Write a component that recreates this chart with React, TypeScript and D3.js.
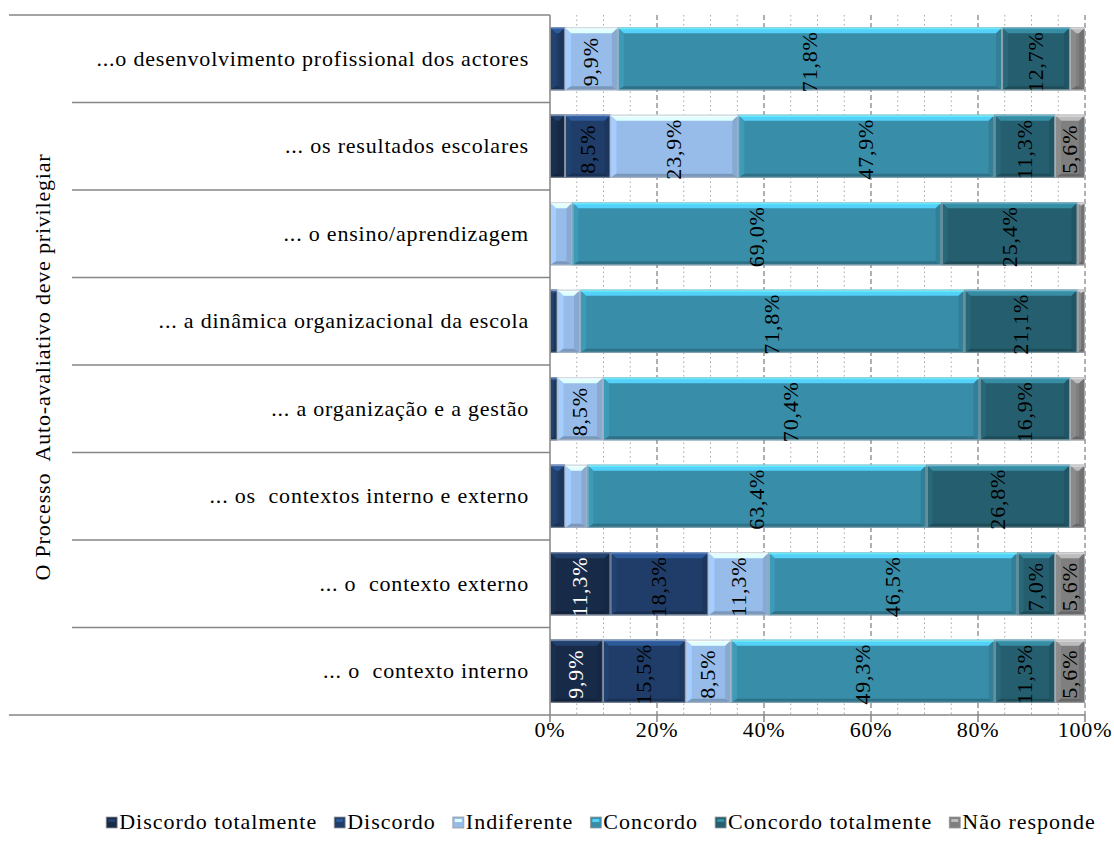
import React, { useEffect, useRef } from "react";
import * as d3 from "d3";

const categories = [
  "...o desenvolvimento profissional dos actores",
  "... os resultados escolares",
  "... o ensino/aprendizagem",
  "... a dinâmica organizacional da escola",
  "... a organização e a gestão",
  "... os  contextos interno e externo",
  "... o  contexto externo",
  "... o  contexto interno",
];

const seriesNames = [
  "Discordo totalmente",
  "Discordo",
  "Indiferente",
  "Concordo",
  "Concordo totalmente",
  "Não responde",
];

const discordoTotalmente = [0, 2.8, 0, 0, 0, 0, 11.3, 9.9];
const discordo = [2.8, 8.5, 0, 1.4, 1.4, 2.8, 18.3, 15.5];
const indiferente = [9.9, 23.9, 4.2, 4.2, 8.5, 4.2, 11.3, 8.5];
const concordo = [71.8, 47.9, 69.0, 71.8, 70.4, 63.4, 46.5, 49.3];
const concordoTotalmente = [12.7, 11.3, 25.4, 21.1, 16.9, 26.8, 7.0, 11.3];
const naoResponde = [2.8, 5.6, 1.4, 1.4, 2.8, 2.8, 5.6, 5.6];

const seriesValues = [
  discordoTotalmente,
  discordo,
  indiferente,
  concordo,
  concordoTotalmente,
  naoResponde,
];

const seriesColors = ["#172b49", "#1f3d68", "#97bce9", "#388da8", "#255f6f", "#7f7f7f"];
const labelColors = ["#ffffff", "#000000", "#000000", "#000000", "#000000", "#000000"];

const tickValues = [0, 20, 40, 60, 80, 100];
const tickLabels = ["0%", "20%", "40%", "60%", "80%", "100%"];
const axisTitle = "O Processo  Auto-avaliativo deve privilegiar";

const FONT = "'Liberation Serif', 'Times New Roman', Times, serif";

export default function App() {
  const ref = useRef<SVGSVGElement>(null);

  useEffect(() => {
    const svg = d3.select(ref.current);
    svg.selectAll("*").remove();

    const left = 550,
      right = 1085,
      top = 15,
      bottom = 715;
    const fs = 22;
    const ls = 0.8;

    const x = d3.scaleLinear().domain([0, 1]).range([left, right]);
    const y = d3
      .scaleBand<string>()
      .domain(categories)
      .range([top, bottom])
      .paddingInner(0.28)
      .paddingOuter(0.14);
    const step = y.step();

    // gridlines
    const grid = svg.append("g");
    const minor = d3.range(5, 100, 5).filter((v) => v % 20 !== 0);
    grid
      .selectAll("line.minor")
      .data(minor)
      .join("line")
      .attr("x1", (d) => x(d / 100))
      .attr("x2", (d) => x(d / 100))
      .attr("y1", top)
      .attr("y2", bottom)
      .attr("stroke", "#a6a6a6")
      .attr("stroke-width", 1)
      .attr("stroke-dasharray", "1.5,3");
    grid
      .selectAll("line.major")
      .data(tickValues.filter((v) => v > 0))
      .join("line")
      .attr("x1", (d) => x(d / 100))
      .attr("x2", (d) => x(d / 100))
      .attr("y1", top)
      .attr("y2", bottom)
      .attr("stroke", "#868686")
      .attr("stroke-width", 1.3)
      .attr("stroke-dasharray", "5,3");

    // stacked data
    const rows = categories.map((c, i) => {
      const o: any = { cat: c };
      seriesNames.forEach((s, j) => (o[s] = seriesValues[j][i]));
      return o;
    });
    const stacked = d3.stack<any>().keys(seriesNames).offset(d3.stackOffsetExpand)(rows);

    const barsG = svg.append("g");
    stacked.forEach((layer, si) => {
      const base = d3.color(seriesColors[si])!;
      const cTop = base.brighter(1.1).formatHex();
      const cTopLine = base.brighter(1.6).formatHex();
      const cBot = base.darker(0.6).formatHex();
      const cLeft = base.brighter(0.25).formatHex();
      const cRight = base.darker(0.3).formatHex();
      layer.forEach((d, ri) => {
        const v = seriesValues[si][ri];
        if (!v) return;
        const x0 = x(d[0]);
        const x1 = x(d[1]);
        const w = x1 - x0;
        const yy = y(categories[ri])!;
        const h = y.bandwidth();
        const g = barsG.append("g");
        g.append("rect")
          .attr("x", x0)
          .attr("y", yy)
          .attr("width", w)
          .attr("height", h)
          .attr("fill", seriesColors[si]);
        const b = Math.min(6, w / 2);
        const bb = Math.min(4, w / 2);
        const poly = (pts: number[][], fill: string) =>
          g.append("polygon").attr("points", pts.map((p) => p.join(",")).join(" ")).attr("fill", fill);
        poly(
          [
            [x0, yy],
            [x0 + b, yy + b],
            [x0 + b, yy + h - bb],
            [x0, yy + h],
          ],
          cLeft
        );
        poly(
          [
            [x1, yy],
            [x1 - b, yy + b],
            [x1 - b, yy + h - bb],
            [x1, yy + h],
          ],
          cRight
        );
        poly(
          [
            [x0, yy],
            [x1, yy],
            [x1 - b, yy + b],
            [x0 + b, yy + b],
          ],
          cTop
        );
        g.append("rect")
          .attr("x", x0)
          .attr("y", yy)
          .attr("width", w)
          .attr("height", 2)
          .attr("fill", cTopLine)
          .attr("opacity", 0.8);
        poly(
          [
            [x0, yy + h],
            [x1, yy + h],
            [x1 - b, yy + h - bb],
            [x0 + b, yy + h - bb],
          ],
          cBot
        );
        g.append("rect")
          .attr("x", x0 + 0.5)
          .attr("y", yy + 0.5)
          .attr("width", Math.max(0, w - 1))
          .attr("height", h - 1)
          .attr("fill", "none")
          .attr("stroke", "#b9bec4")
          .attr("stroke-opacity", 0.7)
          .attr("stroke-width", 1);

        if (v >= 5) {
          const cx = (x0 + x1) / 2;
          const cy = yy + h / 2 + 3;
          g.append("text")
            .attr("transform", `translate(${cx + 7},${cy}) rotate(-90)`)
            .attr("text-anchor", "middle")
            .attr("font-family", FONT)
            .attr("font-size", fs)
            .attr("letter-spacing", ls)
            .attr("fill", labelColors[si])
            .text(v.toFixed(1).replace(".", ",") + "%");
        }
      });
    });

    // axes
    const axisColor = "#868686";
    const ax = svg.append("g");
    ax.append("line")
      .attr("x1", left)
      .attr("x2", left)
      .attr("y1", top)
      .attr("y2", bottom)
      .attr("stroke", axisColor)
      .attr("stroke-width", 1.5);
    ax.append("line")
      .attr("x1", left)
      .attr("x2", right)
      .attr("y1", bottom)
      .attr("y2", bottom)
      .attr("stroke", axisColor)
      .attr("stroke-width", 1.5);
    ax.selectAll("line.tick")
      .data(tickValues)
      .join("line")
      .attr("x1", (d) => x(d / 100))
      .attr("x2", (d) => x(d / 100))
      .attr("y1", bottom)
      .attr("y2", bottom + 7)
      .attr("stroke", axisColor)
      .attr("stroke-width", 1.5);
    ax.selectAll("text.tick")
      .data(tickValues)
      .join("text")
      .attr("x", (d) => x(d / 100))
      .attr("y", 737)
      .attr("text-anchor", "middle")
      .attr("font-family", FONT)
      .attr("font-size", fs)
      .attr("letter-spacing", ls)
      .attr("fill", "#000")
      .text((d, i) => tickLabels[i]);

    // category boundaries
    d3.range(0, categories.length + 1).forEach((i) => {
      const yy = top + i * step;
      const outer = i === 0 || i === categories.length;
      ax.append("line")
        .attr("x1", outer ? 9 : 72)
        .attr("x2", left)
        .attr("y1", yy)
        .attr("y2", yy)
        .attr("stroke", axisColor)
        .attr("stroke-width", 1.5);
    });

    ax.selectAll("text.cat")
      .data(categories)
      .join("text")
      .attr("x", 529)
      .attr("y", (d) => y(d)! + y.bandwidth() / 2 + 7)
      .attr("text-anchor", "end")
      .attr("font-family", FONT)
      .attr("font-size", fs)
      .attr("letter-spacing", ls)
      .style("white-space", "pre")
      .attr("fill", "#000")
      .text((d) => d);

    ax.append("text")
      .attr("transform", `translate(50,${(top + bottom) / 2 + 2}) rotate(-90)`)
      .attr("text-anchor", "middle")
      .attr("font-family", FONT)
      .attr("font-size", fs)
      .attr("letter-spacing", ls)
      .style("white-space", "pre")
      .attr("fill", "#000")
      .text(axisTitle);

    // legend
    const lg = svg.append("g");
    const items = seriesNames.map((name, i) => {
      const g = lg.append("g");
      const base = d3.color(seriesColors[i])!;
      g.append("rect")
        .attr("x", 0)
        .attr("y", -12)
        .attr("width", 11)
        .attr("height", 11)
        .attr("fill", seriesColors[i])
        .attr("stroke", "#9a9a9a")
        .attr("stroke-width", 0.8);
      g.append("rect")
        .attr("x", 2)
        .attr("y", -10)
        .attr("width", 7)
        .attr("height", 3)
        .attr("fill", base.brighter(1.1).formatHex());
      const t = g
        .append("text")
        .attr("x", 13)
        .attr("y", 0)
        .attr("font-family", FONT)
        .attr("font-size", fs)
        .attr("letter-spacing", 1)
        .attr("fill", "#000")
        .text(name);
      const tw = (t.node() as SVGTextElement).getComputedTextLength();
      return { g, w: 13 + tw };
    });
    const gap = 17;
    const total = d3.sum(items, (d) => d.w) + gap * (items.length - 1);
    let cx = 601 - total / 2;
    items.forEach((it) => {
      it.g.attr("transform", `translate(${cx},829)`);
      cx += it.w + gap;
    });
  }, []);

  return (
    <svg
      ref={ref}
      width={1114}
      height={845}
      style={{ position: "absolute", left: 0, top: 0, background: "#fff" }}
    />
  );
}
